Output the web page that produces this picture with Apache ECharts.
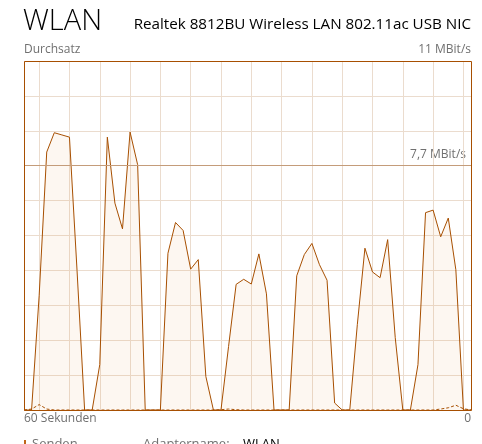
<!DOCTYPE html>
<html>
<head>
<meta charset="utf-8">
<script src="https://cdn.jsdelivr.net/npm/echarts@6/dist/echarts.min.js"></script>
<style>
html,body{margin:0;padding:0;background:#fff;}
#c{width:482px;height:444px;}
</style>
</head>
<body>
<div id="c"></div>
<script>
// Received throughput (MBit/s), one value per second, oldest first (60 points)
const receiveValues = [0,0,3.6,8.13,8.74,8.67,8.6,4.4,0,0,
  1.43,8.6,6.52,5.71,8.76,7.73,0,0,0,4.94,
  5.91,5.66,4.44,4.74,1.06,0,0,2.0,3.96,4.12,
  3.97,4.92,3.66,0,0,0,4.23,4.9,5.25,4.58,
  4.09,0.22,0,0,2.7,5.1,4.35,4.17,5.37,2.28,
  0,0,1.43,6.22,6.3,5.46,6.05,4.42,0,0];
// Sent throughput (MBit/s)
const sendValues = [0,0.03,0.17,0.03,0,0,0,0,0,0,
  0,0,0,0,0,0,0,0,0,0,
  0,0,0,0,0,0,0.01,0.03,0.01,0,
  0,0,0,0,0,0,0,0,0,0,
  0,0,0,0,0,0,0,0,0,0,
  0,0,0,0,0,0.03,0.07,0.15,0.04,0];
const yMax = 11;
const markValue = 7.7;
const xTickLabels = ['60 Sekunden', '0'];
const texts = {
  title: 'WLAN',
  adapter: 'Realtek 8812BU Wireless LAN 802.11ac USB NIC',
  yName: 'Durchsatz',
  yMaxLabel: '11 MBit/s',
  markLabel: '7,7 MBit/s',
  legendSend: 'Senden',
  adapterNameKey: 'Adaptername:',
  adapterNameVal: 'WLAN'
};
const categories = receiveValues.map((_, i) => String(i));

const accent = '#A74F01';
const gray = '#707070';
const font = '"Segoe UI", "Open Sans", "Noto Sans", sans-serif';

const chart = echarts.init(document.getElementById('c'), null, {renderer: 'canvas'});
chart.setOption({
  animation: false,
  backgroundColor: '#ffffff',
  grid: {left: 24, top: 61, width: 447, height: 349, show: false},
  xAxis: {
    type: 'category', data: categories, boundaryGap: false,
    axisLine: {show: false}, axisTick: {show: false}, axisLabel: {show: false},
    splitLine: {show: true, interval: (idx) => idx % 4 === 2, lineStyle: {color: '#EBDCCE', width: 1}}
  },
  yAxis: {
    type: 'value', min: 0, max: yMax, interval: 1.1,
    axisLine: {show: false}, axisTick: {show: false}, axisLabel: {show: false},
    splitLine: {show: true, lineStyle: {color: '#EBDCCE', width: 1}}
  },
  series: [
    {
      name: 'Empfangen', type: 'line', data: receiveValues, symbol: 'none',
      lineStyle: {color: accent, width: 1},
      areaStyle: {color: 'rgba(225,135,55,0.1)', origin: 'start'},
      markLine: {
        silent: true, symbol: 'none',
        lineStyle: {color: '#C49C7A', width: 1, type: 'solid'},
        label: {show: false},
        data: [{yAxis: markValue}]
      },
      z: 3
    },
    {
      name: 'Senden', type: 'line', data: sendValues, symbol: 'none',
      lineStyle: {color: accent, width: 1, type: [3, 2]},
      z: 4
    }
  ],
  graphic: [
    {type: 'rect', z: 100, silent: true, shape: {x: 24.5, y: 61.5, width: 447, height: 349}, style: {fill: null, stroke: accent, lineWidth: 1}},
    {type: 'text', left: 23, top: 7, style: {text: texts.title, font: '300 29px ' + font, fill: '#000'}},
    {type: 'text', right: 11, top: 17, style: {text: texts.adapter, font: '15.2px ' + font, fill: '#000'}},
    {type: 'text', left: 24, top: 44, style: {text: texts.yName, font: '12px ' + font, fill: gray}},
    {type: 'text', right: 11, top: 44, style: {text: texts.yMaxLabel, font: '12px ' + font, fill: gray}},
    {type: 'text', right: 16, top: 149, style: {text: texts.markLabel, font: '12px ' + font, fill: gray}},
    {type: 'text', left: 24, top: 413, style: {text: xTickLabels[0], font: '12px ' + font, fill: gray}},
    {type: 'text', right: 11, top: 413, style: {text: xTickLabels[1], font: '12px ' + font, fill: gray}},
    {type: 'rect', shape: {x: 24, y: 440, width: 2, height: 4}, style: {fill: '#C0651A'}},
    {type: 'text', left: 32, top: 438, style: {text: texts.legendSend, font: '13px ' + font, fill: gray}},
    {type: 'text', left: 143, top: 438, style: {text: texts.adapterNameKey, font: '13px ' + font, fill: gray}},
    {type: 'text', left: 243, top: 438, style: {text: texts.adapterNameVal, font: '13px ' + font, fill: '#000'}}
  ]
});
</script>
</body>
</html>
